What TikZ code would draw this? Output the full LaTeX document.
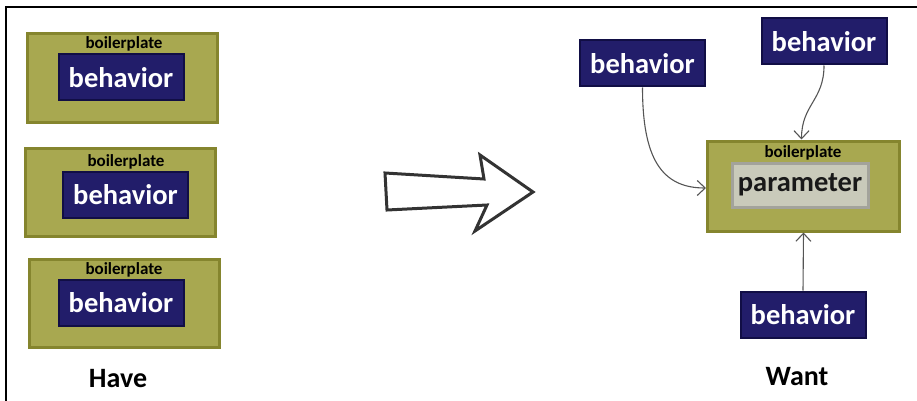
\documentclass[tikz,border=0pt]{standalone}
\usepackage{fontspec}
\setmainfont{Carlito}
\usetikzlibrary{positioning, arrows.meta}
\definecolor{platefill}{HTML}{A8A850}
\definecolor{plateline}{HTML}{85852E}
\definecolor{behavfill}{HTML}{221D6A}
\definecolor{behavline}{HTML}{110E45}
\definecolor{paramfill}{HTML}{C9CABA}
\definecolor{paramline}{HTML}{A3A39B}
\definecolor{linkgray}{HTML}{555555}

\tikzset{
  plate/.style={fill=platefill, draw=plateline, line width=3pt,
                minimum width=190pt, minimum height=88pt, inner sep=0pt},
  platelabel/.style={font=\fontsize{17}{19}\selectfont\bfseries, text=black, inner sep=0pt},
  behav/.style={fill=behavfill, draw=behavline, line width=2pt, text=white,
                font=\fontsize{28.5}{32}\selectfont\bfseries,
                minimum width=125pt, minimum height=46pt, inner sep=0pt},
  param/.style={fill=paramfill, draw=paramline, line width=3pt, text=black!90,
                font=\fontsize{28.5}{32}\selectfont\bfseries,
                minimum width=136pt, minimum height=44pt, inner sep=0pt},
  caption/.style={font=\fontsize{28}{31}\selectfont\bfseries, inner sep=0pt},
  link/.style={draw=linkgray, line width=1.1pt, -{Straight Barb[length=8pt,width=15pt]}}
}

\begin{document}
\begin{tikzpicture}[x=1pt, y=-1pt]
  \useasboundingbox (0,0) rectangle (917,401);
  \draw[line width=2.5pt] (6,401) -- (6,7) -- (917,7);

  % have
  \node[plate] (plateA) at (122,78) {};
  \node[platelabel] (labelA) at (124,44) {boilerplate};
  \node[behav] (behavA) at (121,77.5) {behavior};

  \node[plate] (plateB) at (120.5,192.5) {};
  \node[platelabel] (labelB) at (126,162) {boilerplate};
  \node[behav] (behavB) at (125.5,194.5) {behavior};

  \node[plate] (plateC) at (124,303) {};
  \node[platelabel] (labelC) at (124,270) {boilerplate};
  \node[behav] (behavC) at (121,302.5) {behavior};

  \node[caption] (have) at (118,379) {Have};

  % big arrow
  \draw[line width=3pt, draw=black!80, fill=white, line join=miter]
    (385,173) -- (484,179) -- (480,155) -- (533,192) -- (475,231)
    -- (487,205) -- (387,210) -- cycle;

  % want
  \node[plate, minimum width=192pt, minimum height=90pt] (plateW) at (803.5,186) {};
  \node[platelabel] (labelW) at (803,153) {boilerplate};
  \node[param] (param) at (800,185) {parameter};

  \node[behav] (behavL) at (642.5,63.5) {behavior};
  \node[behav] (behavR) at (824,41.5) {behavior};
  \node[behav] (behavD) at (803,314.5) {behavior};

  \node[caption] (want) at (797,377) {Want};

  \draw[link] (behavL.south) .. controls +(0,70) and +(-45,0) .. ([yshift=-2pt]plateW.west);
  \draw[link] (behavR.south) .. controls +(0,35) and +(0,-35) .. ([xshift=-2pt]plateW.north);
  \draw[link] (behavD.north) -- (plateW.south);
\end{tikzpicture}
\end{document}
